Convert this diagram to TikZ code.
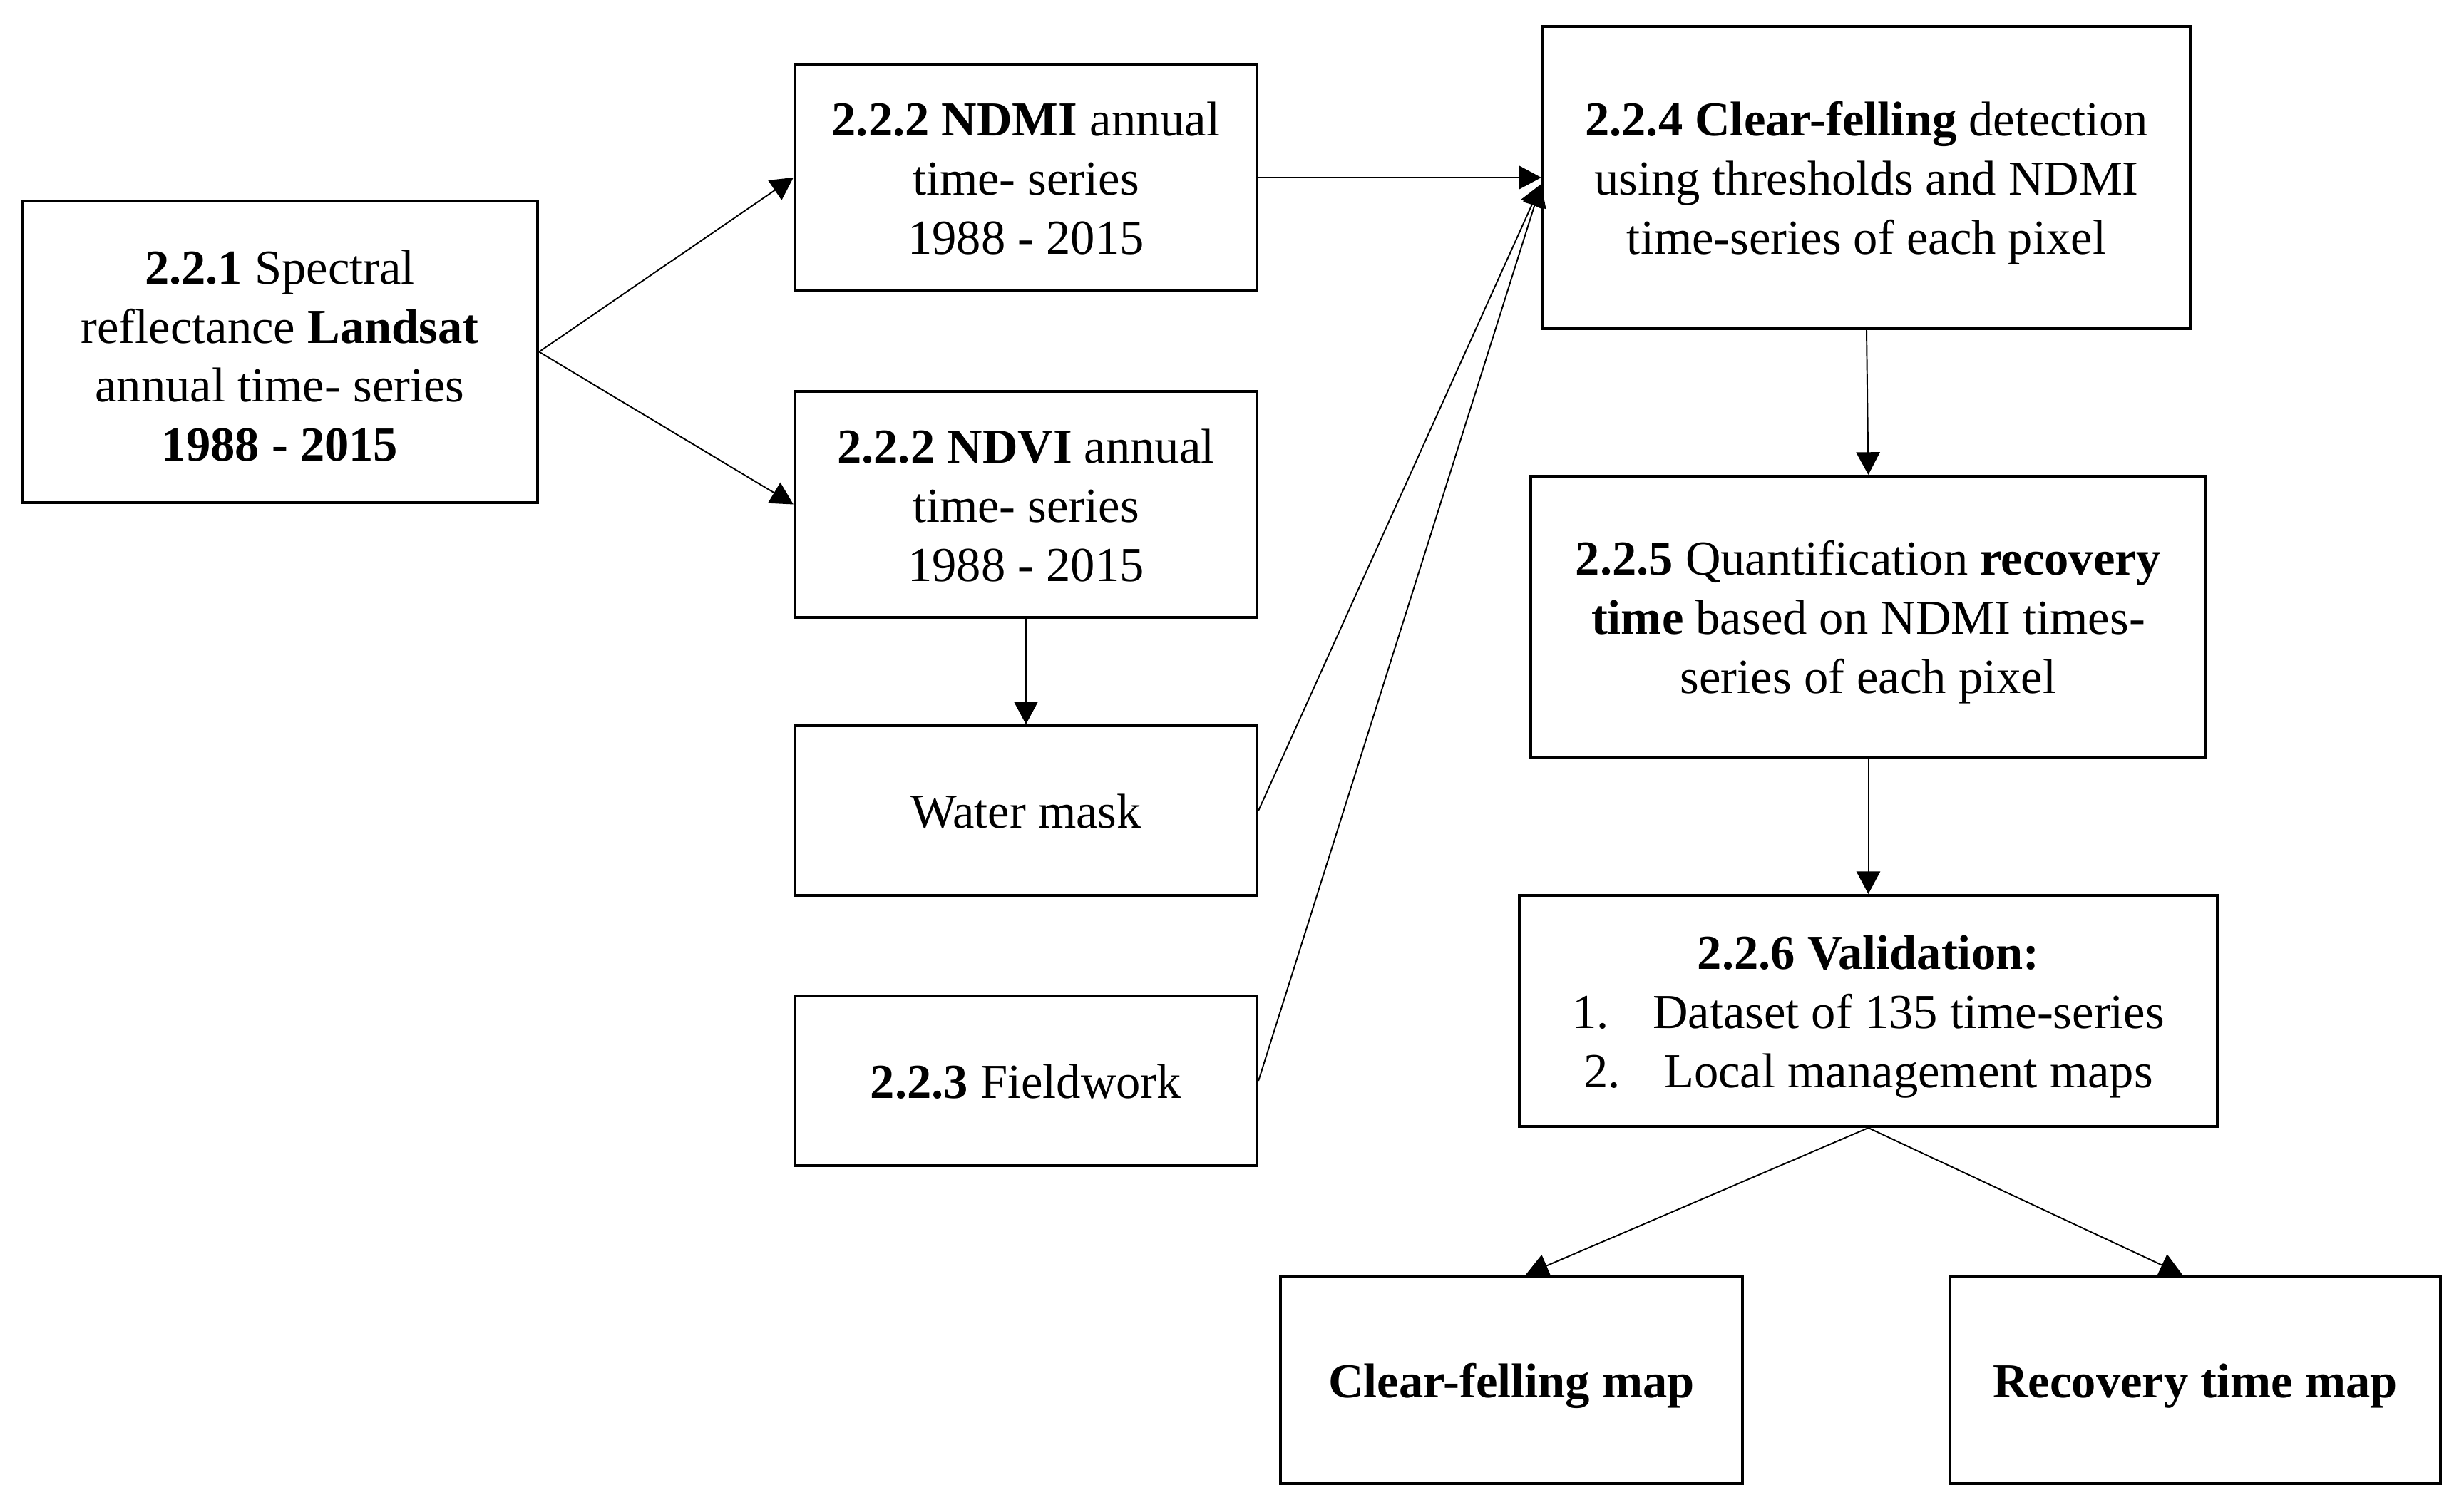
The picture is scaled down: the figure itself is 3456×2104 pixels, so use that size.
\documentclass[tikz,border=0pt]{standalone}
\usepackage{fontspec}
\setmainfont{Liberation Serif}
\usetikzlibrary{arrows.meta,calc}
\newcommand{\ts}{\rule{0pt}{18.5pt}}
\newcommand{\tsb}{\rule{0pt}{21pt}}
\newcommand{\bs}{\rule[-4.5pt]{0pt}{4.5pt}}
\begin{document}
\begin{tikzpicture}[x=0.01cm,y=-0.01cm,
  box/.style={draw,line width=1.1pt,align=center,inner sep=0pt,
    font=\fontsize{19.5}{23.6}\selectfont},
  conn/.style={line width=0.55pt,-{Triangle[length=9pt,width=9.5pt]}}]
\useasboundingbox (0,0) rectangle (3456,2104);
\node[box,minimum width=7.23cm,minimum height=4.23cm] (b1) at (392.5,493.5)
  {\tsb\textbf{2.2.1} Spectral\\ reflectance \textbf{Landsat}\\ annual time- series\\ \textbf{1988 - 2015}\bs};
\node[box,minimum width=6.48cm,minimum height=3.18cm] (ndmi) at (1439,249)
  {\ts\textbf{2.2.2 NDMI} annual\\ time- series\\ 1988 - 2015\bs};
\node[box,minimum width=6.48cm,minimum height=3.17cm] (ndvi) at (1439,707.5)
  {\ts\textbf{2.2.2 NDVI} annual\\ time- series\\ 1988 - 2015\bs};
\node[box,minimum width=6.48cm,minimum height=2.38cm] (water) at (1439,1137)
  {\ts Water mask\bs};
\node[box,minimum width=6.48cm,minimum height=2.38cm] (field) at (1439,1516)
  {\ts\textbf{2.2.3} Fieldwork\bs};
\node[box,minimum width=9.08cm,minimum height=4.24cm] (b4) at (2618,249)
  {\ts\textbf{2.2.4 Clear-felling} detection\\ using thresholds and NDMI\\ time-series of each pixel\bs};
\node[box,minimum width=9.47cm,minimum height=3.94cm] (b5) at (2620.5,865)
  {\ts\textbf{2.2.5} Quantification \textbf{recovery}\\ \textbf{time} based on NDMI times-\\ series of each pixel\bs};
\node[box,minimum width=9.79cm,minimum height=3.24cm] (b6) at (2620.5,1418)
  {\ts\textbf{2.2.6 Validation:}\\ 1.\hspace{0.9em}Dataset of 135 time-series\\ 2.\hspace{0.9em}Local management maps\bs};
\node[box,minimum width=6.48cm,minimum height=2.91cm] (cf) at (2120,1935.5)
  {\ts\textbf{Clear-felling map}\bs};
\node[box,minimum width=6.88cm,minimum height=2.91cm] (rt) at (3079,1935.5)
  {\ts\textbf{Recovery time map}\bs};
\coordinate (b4in) at ($(b4.west)+(0,9)$);
\draw[conn] (b1.east) -- (ndmi.west);
\draw[conn] (b1.east) -- (ndvi.west);
\draw[conn] (ndmi.east) -- (b4.west);
\draw[conn] (ndvi.south) -- (water.north);
\draw[conn] (water.east) -- (b4in);
\draw[conn] (field.east) -- (b4in);
\draw[conn] (b4.south) -- (b5.north);
\draw[conn] (b5.south) -- (b6.north);
\draw[conn] (b6.south) -- ($(cf.north)+(20,0)$);
\draw[conn] (b6.south) -- ($(rt.north)+(-18,0)$);
\end{tikzpicture}
\end{document}
